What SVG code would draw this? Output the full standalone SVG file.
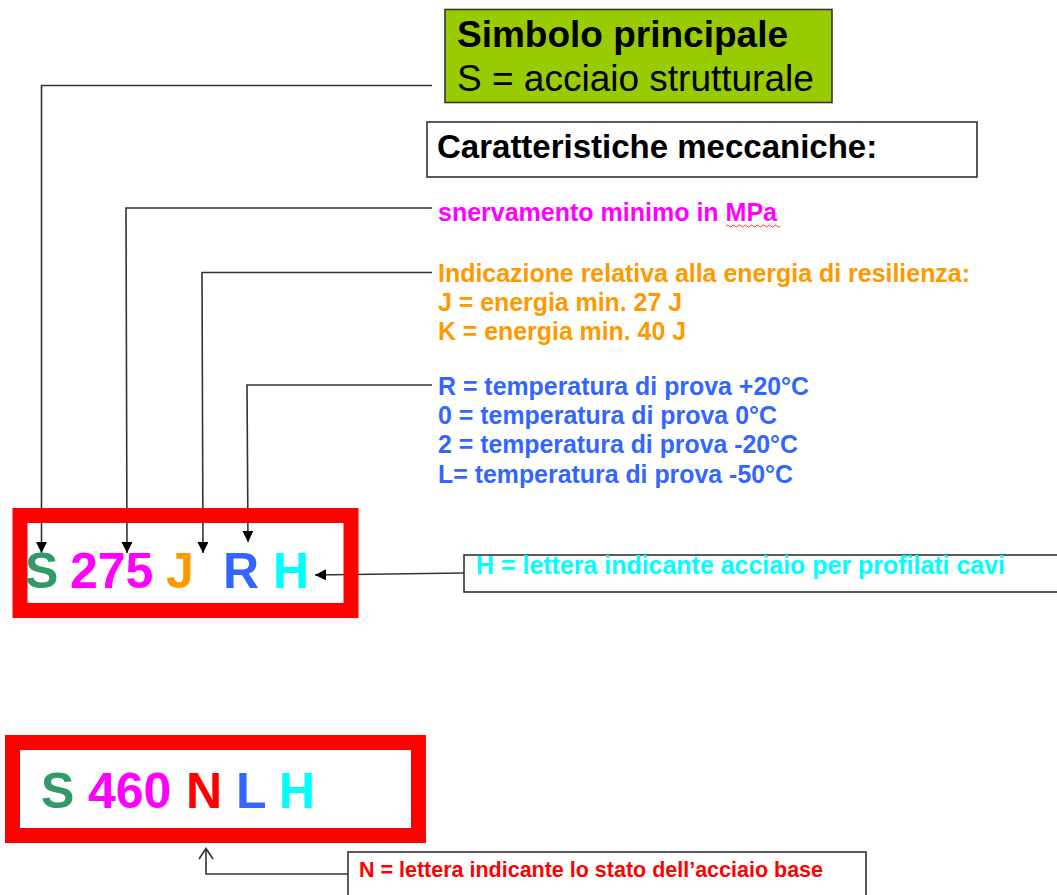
<svg xmlns="http://www.w3.org/2000/svg" width="1057" height="895" viewBox="0 0 1057 895">
<style>
text{font-family:"Liberation Sans",Arial,sans-serif}
.b{font-weight:bold}
.lbl{font-weight:bold;font-size:25px}
.big{font-weight:bold;font-size:50px}
.ln{fill:none;stroke:#333;stroke-width:1.6}
.box{fill:#fff;stroke:#333;stroke-width:1.6}
.red{fill:none;stroke:#FF0000;stroke-width:15}
.g{fill:#339966}.m{fill:#FF00FF}.o{fill:#FF9900}.bl{fill:#3366FF}.c{fill:#00FFFF}.r{fill:#FF0000}
</style>
<defs>
<marker id="ah" viewBox="0 0 10 10" refX="10" refY="5" markerWidth="11" markerHeight="11" markerUnits="userSpaceOnUse" orient="auto">
<path d="M0,0 L10,5 L0,10 Z" fill="#000"/>
</marker>
</defs>

<g id="connectors">
<path class="ln" d="M432,85.5 H41.5 V553" marker-end="url(#ah)"/>
<path class="ln" d="M432,208 H126 L127,553" marker-end="url(#ah)"/>
<path class="ln" d="M432,272.5 H202 L203,553" marker-end="url(#ah)"/>
<path class="ln" d="M432,385 H247 L248,542" marker-end="url(#ah)"/>
<path class="ln" d="M464,573 L315,575" marker-end="url(#ah)"/>
<path class="ln" d="M348,874 H206 V849"/>
<path class="ln" d="M199,859 L206,848.5 L213,859"/>
</g>

<g id="simbolo">
<rect x="445" y="9.5" width="387" height="93" fill="#99CC00" stroke="#333" stroke-width="1.6"/>
<text x="457" y="47" class="b" font-size="37">Simbolo principale</text>
<text x="457" y="91" font-size="37">S = acciaio strutturale</text>
</g>

<g id="caratteristiche">
<rect class="box" x="427" y="122" width="550" height="55"/>
<text x="437" y="158" class="b" font-size="33">Caratteristiche meccaniche:</text>
</g>

<g id="snervamento">
<text x="438" y="220.5" class="lbl m" textLength="339" lengthAdjust="spacingAndGlyphs">snervamento minimo in MPa</text>
<path d="M726,226 q1.5,-2 3,0 t3,0 t3,0 t3,0 t3,0 t3,0 t3,0 t3,0 t3,0 t3,0 t3,0 t3,0 t3,0 t3,0 t3,0 t3,0 t3,0 t3,0" fill="none" stroke="#FF0000" stroke-width="0.8"/>
</g>

<g id="resilienza">
<text x="438" y="281.5" class="lbl o" textLength="532" lengthAdjust="spacingAndGlyphs">Indicazione relativa alla energia di resilienza:</text>
<text x="438" y="310.5" class="lbl o" textLength="244" lengthAdjust="spacingAndGlyphs">J = energia min. 27 J</text>
<text x="438" y="340" class="lbl o" textLength="248" lengthAdjust="spacingAndGlyphs">K = energia min. 40 J</text>
</g>

<g id="temperatura">
<text x="438" y="395" class="lbl bl" textLength="371" lengthAdjust="spacingAndGlyphs">R = temperatura di prova +20°C</text>
<text x="438" y="424" class="lbl bl" textLength="339" lengthAdjust="spacingAndGlyphs">0 = temperatura di prova 0°C</text>
<text x="438" y="453.3" class="lbl bl" textLength="360" lengthAdjust="spacingAndGlyphs">2 = temperatura di prova -20°C</text>
<text x="438" y="482.7" class="lbl bl" textLength="355" lengthAdjust="spacingAndGlyphs">L= temperatura di prova -50°C</text>
</g>

<g id="codice1">
<rect class="red" x="20" y="515.5" width="331" height="95"/>
<text x="25" y="588" class="big g">S</text>
<text x="70" y="588" class="big m">275</text>
<text x="166" y="588" class="big o">J</text>
<text x="223" y="588" class="big bl">R</text>
<text x="273" y="588" class="big c">H</text>
</g>

<g id="profilati">
<rect class="box" x="464" y="555" width="600" height="37"/>
<text x="476" y="574" class="lbl c" textLength="529" lengthAdjust="spacingAndGlyphs">H = lettera indicante acciaio per profilati cavi</text>
</g>

<g id="codice2">
<rect class="red" x="12.5" y="742.5" width="406" height="93"/>
<text x="41" y="808" class="big g">S</text>
<text x="88" y="808" class="big m">460</text>
<text x="186" y="808" class="big r">N</text>
<text x="236" y="808" class="big bl">L</text>
<text x="279" y="808" class="big c">H</text>
</g>

<g id="stato">
<rect class="box" x="348" y="852" width="518" height="60"/>
<text x="359" y="876.5" class="b r" font-size="22" textLength="464" lengthAdjust="spacingAndGlyphs">N = lettera indicante lo stato dell’acciaio base</text>
</g>
</svg>
